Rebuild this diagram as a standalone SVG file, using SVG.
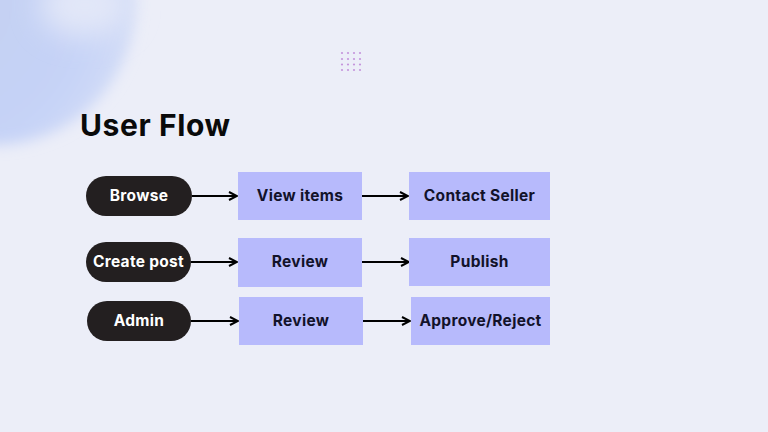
<svg xmlns="http://www.w3.org/2000/svg" width="768" height="432" viewBox="0 0 768 432">
<defs>
<filter id="blur" x="-50%" y="-50%" width="200%" height="200%"><feGaussianBlur stdDeviation="7"/></filter>
<filter id="blur2" x="-50%" y="-50%" width="200%" height="200%"><feGaussianBlur stdDeviation="14"/></filter>
<radialGradient id="blob" cx="0.3" cy="0.5" r="0.7">
<stop offset="0" stop-color="#c4d0f0"/>
<stop offset="0.75" stop-color="#c6d3f7"/>
<stop offset="1" stop-color="#d2dcf7"/>
</radialGradient>
<marker id="arr" viewBox="0 0 10 10" refX="9" refY="5" markerWidth="5" markerHeight="5" orient="auto" markerUnits="strokeWidth">
<path d="M1,1 L9,5 L1,9" fill="none" stroke="#000" stroke-width="2"/>
</marker>
<style>
.pill{fill:#231f20}
.box{fill:#b7bafc}
.pt{font-family:Inter,"Liberation Sans",sans-serif;font-weight:700;font-size:15.5px;letter-spacing:0.3px;fill:#ffffff;text-anchor:middle;dominant-baseline:central}
.bt{font-family:Inter,"Liberation Sans",sans-serif;font-weight:700;font-size:15.5px;letter-spacing:0.3px;fill:#12122a;text-anchor:middle;dominant-baseline:central}
.c{stroke:#000;stroke-width:2;fill:none;marker-end:url(#arr)}
.dot{fill:#c595dc}
</style>
</defs>
<rect width="768" height="432" fill="#eceef8"/>
<g id="blob-bg">
<circle cx="-5" cy="5" r="140" fill="url(#blob)" filter="url(#blur)"/>
<ellipse cx="85" cy="5" rx="45" ry="32" fill="#e2e7f8" filter="url(#blur2)"/>
</g>
<g id="dots">
<circle class="dot" cx="342" cy="53" r="1.1"/><circle class="dot" cx="348" cy="53" r="1.1"/><circle class="dot" cx="354" cy="53" r="1.1"/><circle class="dot" cx="360" cy="53" r="1.1"/>
<circle class="dot" cx="342" cy="59" r="1.1"/><circle class="dot" cx="348" cy="59" r="1.1"/><circle class="dot" cx="354" cy="59" r="1.1"/><circle class="dot" cx="360" cy="59" r="1.1"/>
<circle class="dot" cx="342" cy="64.5" r="1.1"/><circle class="dot" cx="348" cy="64.5" r="1.1"/><circle class="dot" cx="354" cy="64.5" r="1.1"/><circle class="dot" cx="360" cy="64.5" r="1.1"/>
<circle class="dot" cx="342" cy="70" r="1.1"/><circle class="dot" cx="348" cy="70" r="1.1"/><circle class="dot" cx="354" cy="70" r="1.1"/><circle class="dot" cx="360" cy="70" r="1.1"/>
</g>
<text id="title" x="80" y="136" font-family="Inter,'Liberation Sans',sans-serif" font-weight="700" font-size="30" letter-spacing="0.6" fill="#0a0a0a">User Flow</text>
<g id="connectors">
<line class="c" x1="192" y1="196" x2="237" y2="196"/>
<line class="c" x1="362" y1="196" x2="408" y2="196"/>
<line class="c" x1="191" y1="262" x2="237" y2="262"/>
<line class="c" x1="362" y1="262" x2="409" y2="262"/>
<line class="c" x1="191" y1="321" x2="238" y2="321"/>
<line class="c" x1="363" y1="321" x2="410" y2="321"/>
</g>
<g id="browse"><rect class="pill" x="86" y="176" width="106" height="40" rx="20"/><text class="pt" x="139" y="195.5">Browse</text></g>
<g id="view-items"><rect class="box" x="238" y="172" width="124" height="48"/><text class="bt" x="300" y="195.5">View items</text></g>
<g id="contact-seller"><rect class="box" x="409" y="172" width="141" height="48"/><text class="bt" x="479.5" y="195.5">Contact Seller</text></g>
<g id="create-post"><rect class="pill" x="86" y="242" width="105" height="40" rx="20"/><text class="pt" x="138.5" y="261.5">Create post</text></g>
<g id="review-1"><rect class="box" x="238" y="238" width="124" height="49"/><text class="bt" x="300" y="261.5">Review</text></g>
<g id="publish"><rect class="box" x="409" y="238" width="141" height="48"/><text class="bt" x="479.5" y="261.5">Publish</text></g>
<g id="admin"><rect class="pill" x="87" y="301" width="104" height="40" rx="20"/><text class="pt" x="139" y="320.5">Admin</text></g>
<g id="review-2"><rect class="box" x="239" y="297" width="124" height="48"/><text class="bt" x="301" y="320.5">Review</text></g>
<g id="approve-reject"><rect class="box" x="411" y="297" width="139" height="48"/><text class="bt" x="480.5" y="320.5">Approve/Reject</text></g>
</svg>
